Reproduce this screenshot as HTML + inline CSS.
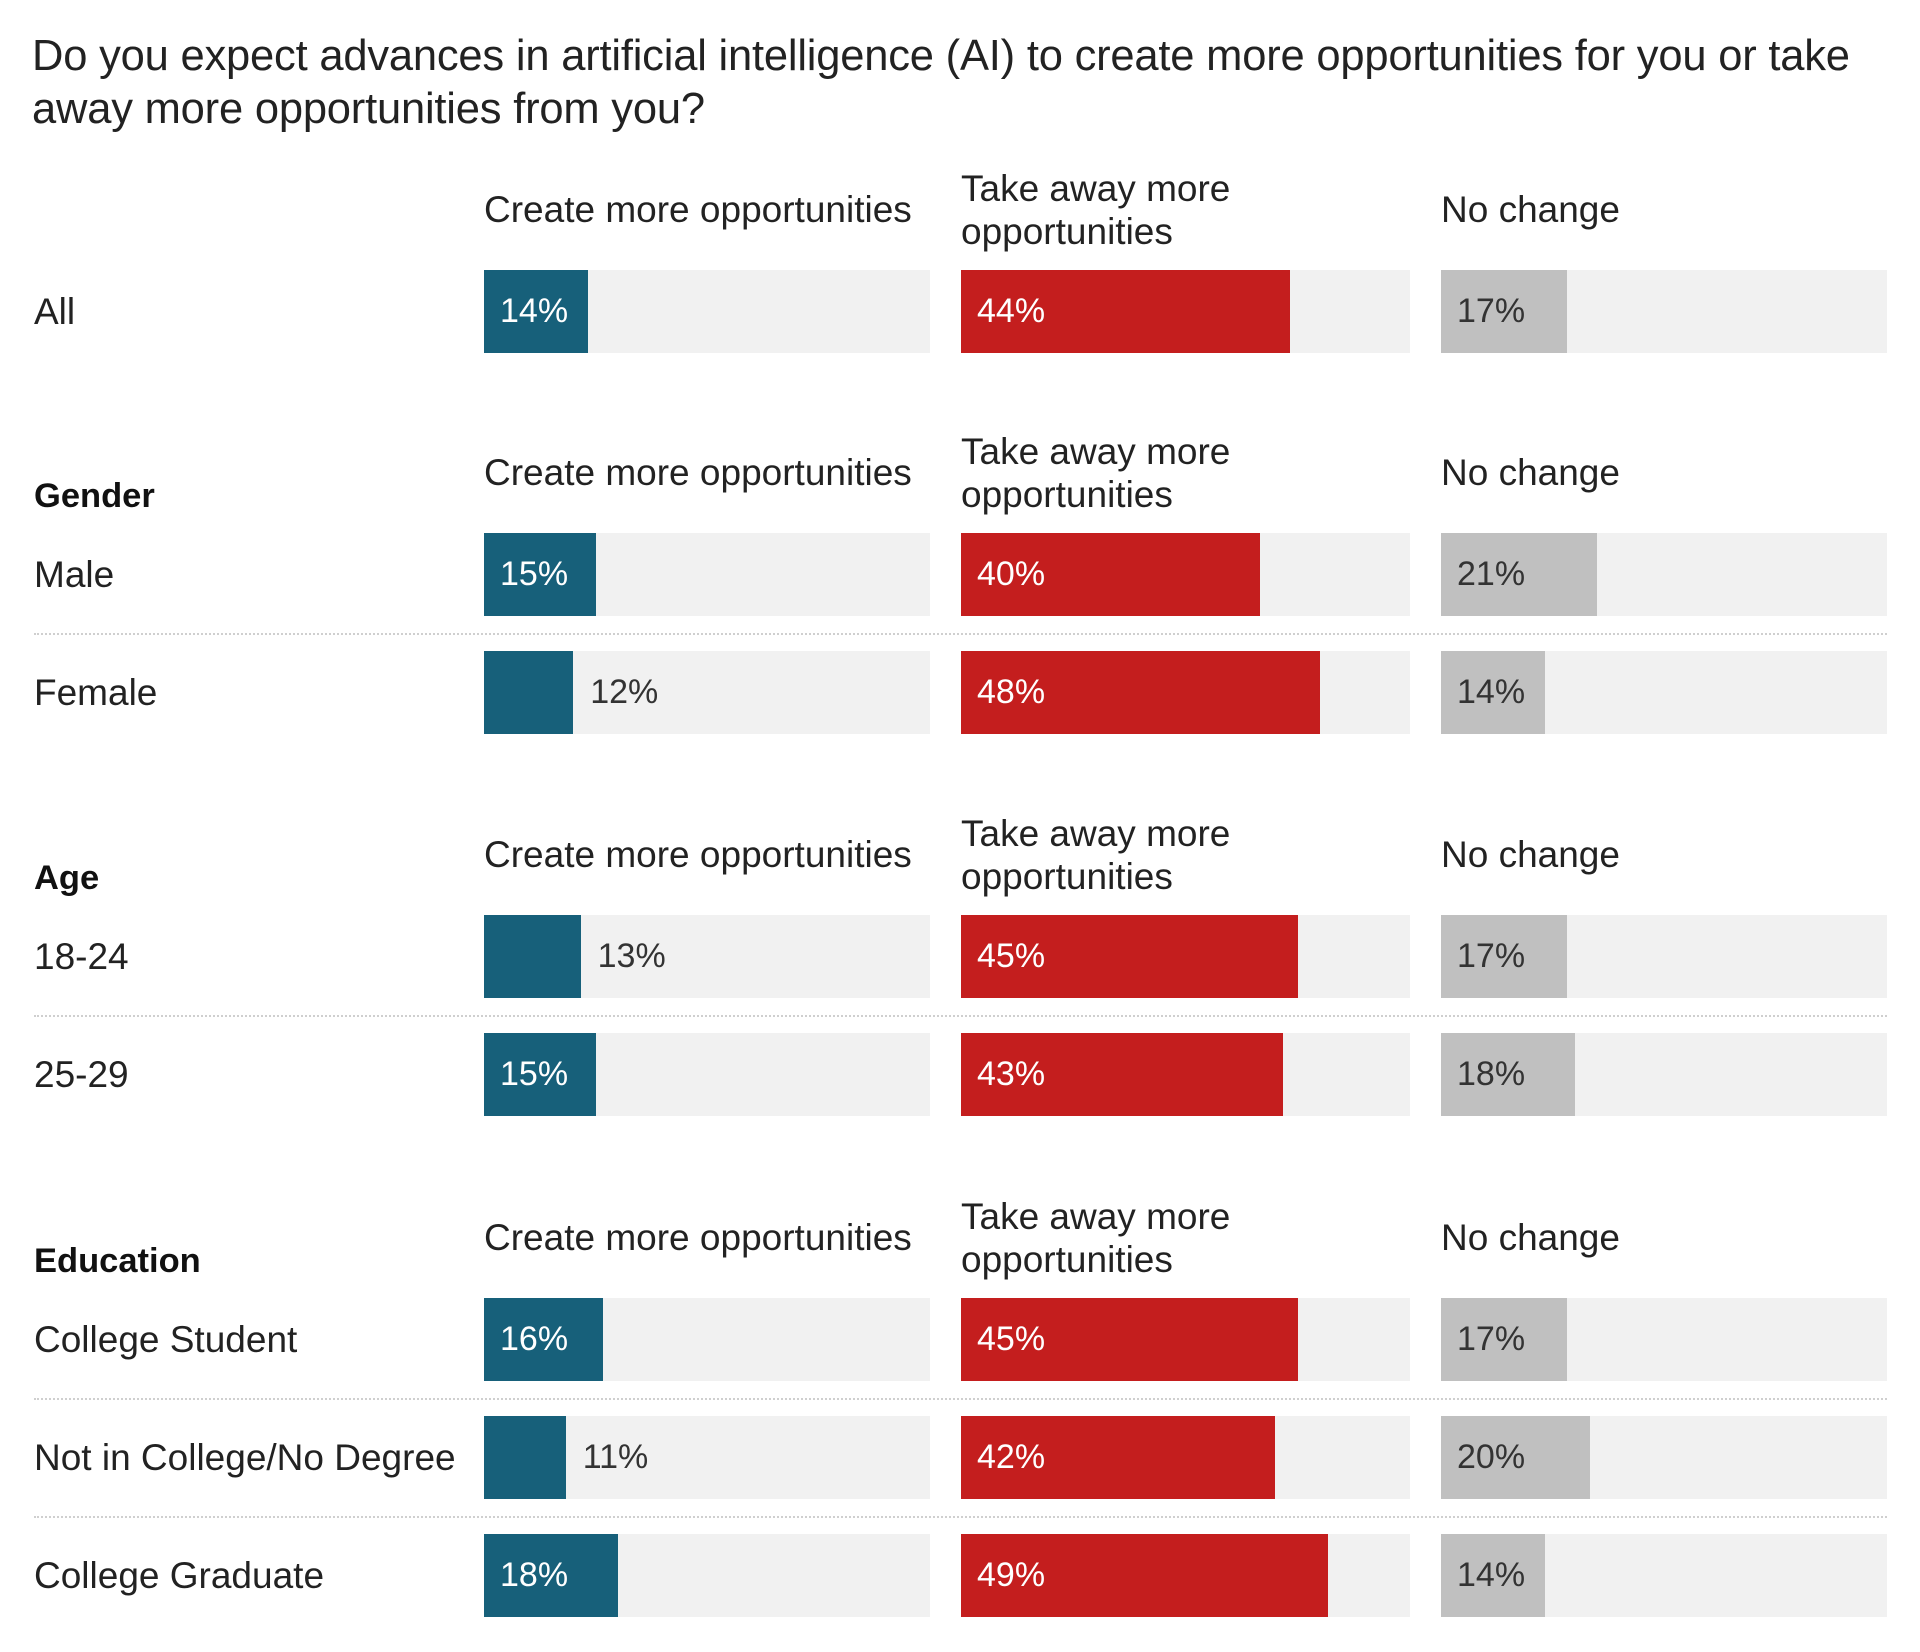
<!DOCTYPE html>
<html><head><meta charset="utf-8"><style>
html,body{margin:0;padding:0;background:#fff;width:1920px;height:1652px;overflow:hidden;font-family:"Liberation Sans",sans-serif;color:#222}
#root{position:relative;width:1920px;height:1652px}
.t{position:absolute;white-space:nowrap}
.title{left:32px;top:30px;font-size:43.5px;line-height:53px;color:#222;letter-spacing:-0.2px}
.hd{font-size:37px;line-height:43px;color:#222}
.sec{font-size:34.5px;font-weight:bold;color:#111}
.lab{font-size:37px;color:#222}
.trk{position:absolute;background:#f1f1f1}
.bar{position:absolute}
.val{position:absolute;font-size:34px;line-height:83px}
.sep{position:absolute;left:34px;width:1853px;border-top:2px dotted #cfcfcf;height:0}
</style></head><body>
<div id="root">
<div class="t title">Do you expect advances in artificial intelligence (AI) to create more opportunities for you or take<br>away more opportunities from you?</div>
</div>
<script>
const groups = ["", "Gender", "Age", "Education"];
const rowLabels = ["All", "Male", "Female", "18-24", "25-29", "College Student", "Not in College/No Degree", "College Graduate"];
const rowGroup = [0, 1, 1, 2, 2, 3, 3, 3];
const createVals = [14, 15, 12, 13, 15, 16, 11, 18];
const takeVals = [44, 40, 48, 45, 43, 45, 42, 49];
const noChangeVals = [17, 21, 14, 17, 18, 17, 20, 14];
const columnNames = ["Create more opportunities", "Take away more<br>opportunities", "No change"];
const maxVal = 60;

const root = document.getElementById('root');
const colX = [484, 961, 1441];
const colW = [446, 449, 446];
const colColor = ["#17607a", "#c41e1e", "#c0c0c0"];
const colText = ["#fff", "#fff", "#333"];
const series = [createVals, takeVals, noChangeVals];
const barH = 83;
const groupTop = [270, 533, 915, 1298];
const rowStep = 118;

function xScale(v, c){ return v / maxVal * colW[c]; }

function mk(tag, cls, css, html){
  const e = document.createElement(tag);
  if (cls) e.className = cls;
  Object.assign(e.style, css);
  if (html !== undefined) e.innerHTML = html;
  root.appendChild(e);
  return e;
}

groups.forEach((g, gi) => {
  const top = groupTop[gi];
  if (g) {
    const s = mk('div', 't sec', {left: '34px', top: (top - 56) + 'px'}, g);
    
    
  }
  columnNames.forEach((cn, ci) => {
    const two = cn.indexOf('<br>') >= 0;
    const h = mk('div', 't hd', {left: (colX[ci]) + 'px', top: (top - (two ? 103 : 82)) + 'px'}, cn);
    
    
  });
});

let prevGroup = -1, idxInGroup = 0;
rowLabels.forEach((lab, ri) => {
  const g = rowGroup[ri];
  if (g !== prevGroup) { idxInGroup = 0; prevGroup = g; } else idxInGroup++;
  const top = groupTop[g] + idxInGroup * rowStep;
  if (idxInGroup > 0) {
    const sp = mk('div', 'sep', {top: (top - 18) + 'px'});
    
    
  }
  const l = mk('div', 't lab', {left: '34px', top: top + 'px', lineHeight: barH + 'px'}, lab);
  
  
  series.forEach((arr, ci) => {
    const v = arr[ri];
    const tr = mk('div', 'trk', {left: colX[ci] + 'px', top: top + 'px', width: colW[ci] + 'px', height: barH + 'px'});
    
    
    const w = xScale(v, ci);
    const b = mk('div', 'bar', {left: colX[ci] + 'px', top: top + 'px', width: w + 'px', height: barH + 'px', background: colColor[ci]});
    
    
    const inside = v >= 14;
    const t = mk('div', 'val', {left: (inside ? colX[ci] + 16 : colX[ci] + w + 17) + 'px', top: top + 'px', color: inside ? colText[ci] : '#333'}, v + '%');
    
    
  });
});
</script>
</body></html>
